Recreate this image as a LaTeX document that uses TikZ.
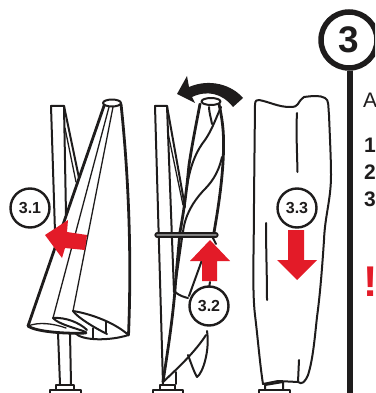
\documentclass[tikz,border=0pt]{standalone}
\usepackage{fontspec}
\setmainfont{Liberation Sans}
\definecolor{rd}{RGB}{227,27,40}
\definecolor{ink}{RGB}{30,28,28}
\tikzset{
 ln/.style={draw=ink,line width=2pt,line join=round,line cap=round},
 hv/.style={draw=ink,line width=2.8pt,line join=round,line cap=round},
 thn/.style={draw=ink,line width=1.3pt,line join=round,line cap=round},
 red/.style={fill=rd,draw=none},
 badge/.style={circle,draw=ink,line width=2.4pt,fill=white,minimum size=39pt,inner sep=0pt,font=\bfseries\fontsize{16}{16}\selectfont,text=ink},
 lab/.style={anchor=base west,inner sep=0pt,text=ink,font=\bfseries\fontsize{21}{21}\selectfont},
}
\begin{document}
\begin{tikzpicture}[x=1pt,y=-1pt]
\useasboundingbox (0,0) rectangle (375,393);
\clip (0,0) rectangle (375,393);
% --- figure 1
\draw[ln] (55,232) -- (51,106) -- (64,106) -- (66,215);
\draw[ln] (64,106) -- (79,178);
\draw[thn] (65,128) -- (76,182);
\draw[ln] (58,333) -- (60,384) (70,333) -- (71,384);
\draw[ln,fill=white] (56,392) -- (56,385) -- (74,385) -- (74,392);
\draw[ln,fill=white] (50,393) -- (50,390) -- (81,390) -- (81,393);
\path[fill=white] (105,103) -- (121,103) .. controls (128,170) and (132,250) .. (128.5,335) .. controls (115,340) and (90,342) .. (75,333) -- (43,332) -- (28,326) -- cycle;
\draw[hv] (105,103) -- (28,326);
\draw[hv] (121,104) .. controls (128,170) and (132,250) .. (128.5,335);
\draw[ln,fill=white] (112,103) ellipse (9 and 3.5);
\draw[thn] (109,107) -- (53,318);
\draw[thn] (113,107) -- (73,311);
% rear lobe
\draw[ln] (75,333) .. controls (82,341) and (110,341) .. (128.5,335);
\draw[thn] (93,328) -- (93,338);
\draw[ln] (73,311) .. controls (78,318) and (95,328) .. (107,334);
\draw[ln] (73,311) .. controls (92,314) and (115,323) .. (128.5,335);
\draw[thn] (106,322) -- (106,333);
% middle lobe
\draw[ln] (53,318) .. controls (58,324) and (75,328) .. (86,332);
\draw[ln] (53,318) .. controls (66,317) and (80,323) .. (87,330);
% front lobe
\draw[hv] (28,326) .. controls (36,332) and (68,334) .. (86,333);
\draw[thn] (28,326) .. controls (38,322) and (52,323) .. (66,328);
\node[badge] (b1) at (30,208) {3.1};
\path[red] (45,235) -- (68,220) -- (67,232) -- (87,235) -- (85,250) -- (65,248) -- (62,258) -- cycle;
% --- figure 2
\draw[ln] (163,384) -- (155,106) -- (167,106) -- (174,292);
\draw[ln] (176,372) -- (176,384);
\draw[ln] (167,106) -- (185,207);
\draw[thn] (168,133) -- (183,205);
% twisted canopy
\draw[hv] (200,104) .. controls (196,125) and (192,145) .. (189,165) .. controls (187,185) and (185,205) .. (180,232) .. controls (178,255) and (176,275) .. (175,290) .. controls (172,325) and (167,355) .. (163,382);
\draw[hv] (219,104) .. controls (222,118) and (224,130) .. (223.5,150) .. controls (223,175) and (219,205) .. (213,238);
\draw[ln] (221,107) .. controls (216,118) and (212,130) .. (205,140) .. controls (197,150) and (190,165) .. (187,187);
\draw[ln] (209,107) .. controls (209,112) and (211,118) .. (212,124);
\draw[ln] (222,157) .. controls (218,175) and (210,184) .. (203,191) .. controls (193,202) and (185,215) .. (183,232);
\draw[ln,fill=white] (211,101.5) ellipse (9.5 and 3.5);
\draw[ln] (182,238) -- (176,280);
\draw[ln] (175,292) .. controls (180,296) and (184,297) .. (188,298);
\draw[ln] (202,260) -- (189,296);
\draw[ln] (210,282) -- (209,288);
\draw[ln] (213,238) -- (216,244);
% lower lobes
\draw[ln] (163,382) .. controls (178,368) and (195,352) .. (206,335);
\draw[ln] (188,355) .. controls (191,363) and (194,372) .. (197,377) .. controls (203,373) and (210,350) .. (207,331);
\draw[draw=ink,line width=5.2pt,line cap=round] (157,235) -- (216,235);
\draw[draw=black!50,line width=1.5pt,line cap=round] (157,235) -- (216,235);
\draw[ln,fill=white] (160,389) -- (160,385) -- (175,385) -- (175,389);
\draw[ln,fill=white] (153,393) -- (153,389.5) -- (183,389.5) -- (183,393);
\node[badge] (b2) at (209,306) {3.2};
\path[red] (210,240) -- (230,261) -- (217,261) -- (217,281) -- (202,281) -- (202,261) -- (190,261) -- cycle;
\path[fill=ink] (177,94) -- (187,76) -- (189,87) .. controls (210,78) and (232,85) .. (243,98) -- (233,107) .. controls (222,93) and (207,90) .. (192,97) -- (195,103) -- cycle;
% --- figure 3
\draw[ln] (255,105) .. controls (255,100) and (257,100) .. (259,100) .. controls (270,102) and (278,107) .. (290,107) .. controls (300,107) and (296,103) .. (304,97) .. controls (312,96) and (320,95) .. (325,98) .. controls (329,100) and (328,105) .. (329,115) .. controls (330,140) and (331,160) .. (331,175) .. controls (331,200) and (325,215) .. (324,240) .. controls (322,270) and (320,295) .. (317,317) .. controls (315,335) and (313,360) .. (308,375) .. controls (305,382) and (302,385) .. (298,382) -- (278,381) -- (263,384) .. controls (260,365) and (258,340) .. (255,315) .. controls (252,290) and (254,250) .. (254,200) -- (255,105) -- cycle;
\draw[ln] (297,113) .. controls (296,130) and (297,150) .. (297.5,172);
\draw[ln] (266,223) .. controls (266,250) and (267,275) .. (267,300);
\draw[ln] (299,360) -- (298,382);
\draw[ln,fill=white] (265,390) -- (265,385) -- (283,382) -- (283,390);
\draw[ln,fill=white] (259,393) -- (259,390) -- (290,390) -- (290,393);
\node[badge] (b3) at (297,208) {3.3};
\path[red] (288,230) -- (304,230) -- (304,260) -- (317,260) -- (297,280) -- (277,260) -- (288,260) -- cycle;
% --- right column
\coordinate (railend) at (350,393);
\node[circle,draw=ink,line width=5.5pt,fill=white,minimum size=56pt,inner sep=0pt,font=\bfseries\fontsize{37}{37}\selectfont,text=ink] (big) at (349,40) {3};
\draw[draw=ink,line width=5.5pt] (big.south -| railend) -- (railend);
\node[lab,font=\fontsize{21}{21}\selectfont] at (363,108) {A};
\node[lab] at (364,152) {1.};
\node[lab] at (364,179) {2.};
\node[lab] at (364,206) {3.};
\node[anchor=base west,inner sep=0pt,text=rd,font=\bfseries\fontsize{43}{43}\selectfont] at (363.5,296) {!};
\end{tikzpicture}
\end{document}
